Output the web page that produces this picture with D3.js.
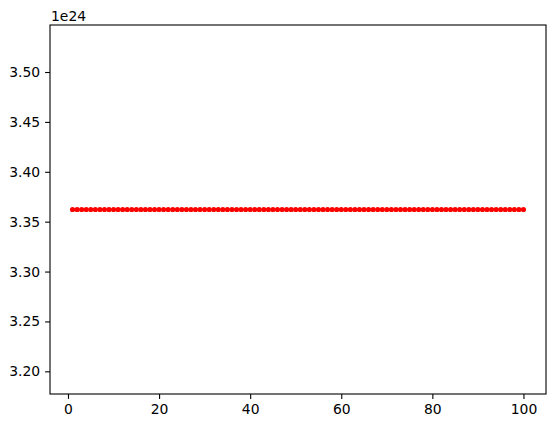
<!DOCTYPE html>
<html lang="en">
<head>
    <meta charset="UTF-8">
    <title>Constant series</title>
    <script src="https://d3js.org/d3.v7.min.js"></script>
    <style>
        body { margin: 0; background: white; }
        svg { display: block; }
        text { font-family: "DejaVu Sans", sans-serif; font-size: 13.9px; fill: black; }
        .axis path, .axis line { stroke: black; stroke-width: 1.1px; }
    </style>
</head>
<body>
    <script>
        // data: x = 1..100, all at the same value (in units of 1e24)
        const xValues = d3.range(1, 101);
        const yValue = 3.3622;
        const yValues = xValues.map(() => yValue);
        const xTicks = [0, 20, 40, 60, 80, 100];
        const yTicks = [3.20, 3.25, 3.30, 3.35, 3.40, 3.45, 3.50];
        const offsetLabel = "1e24";

        const width = 556, height = 428;
        const margin = {top: 25, right: 10, bottom: 34, left: 50};

        const svg = d3.select("body").append("svg")
            .attr("width", width)
            .attr("height", height);

        // matplotlib style limits: 5% margins on x, constant y expanded by 5% of value then 5% margin
        const x = d3.scaleLinear()
            .domain([1 - 0.05 * 99, 100 + 0.05 * 99])
            .range([margin.left, width - margin.right]);
        const y = d3.scaleLinear()
            .domain([yValue * 0.945, yValue * 1.055])
            .range([height - margin.bottom, margin.top]);

        const g = svg.append("g");

        g.selectAll("circle")
            .data(xValues)
            .enter()
            .append("circle")
            .attr("cx", d => x(d))
            .attr("cy", (d, i) => y(yValues[i]))
            .attr("r", 2.6)
            .attr("fill", "red");

        // frame
        svg.append("rect")
            .attr("x", margin.left)
            .attr("y", margin.top)
            .attr("width", width - margin.left - margin.right)
            .attr("height", height - margin.top - margin.bottom)
            .attr("fill", "none")
            .attr("stroke", "black")
            .attr("stroke-width", 1.1);

        svg.append("g")
            .attr("class", "axis")
            .attr("transform", `translate(0,${height - margin.bottom})`)
            .call(d3.axisBottom(x).tickValues(xTicks).tickSize(4.9).tickPadding(4.9).tickFormat(d3.format("d")))
            .call(a => a.select(".domain").remove())
            .selectAll("text").style("font-size", "13.9px").attr("fill", "black");

        svg.append("g")
            .attr("class", "axis")
            .attr("transform", `translate(${margin.left},0)`)
            .call(d3.axisLeft(y).tickValues(yTicks).tickSize(4.9).tickPadding(4.9).tickFormat(d3.format(".2f")))
            .call(a => a.select(".domain").remove())
            .selectAll("text").style("font-size", "13.9px").attr("fill", "black");

        svg.append("text")
            .attr("x", margin.left + 1)
            .attr("y", margin.top - 4)
            .text(offsetLabel);
    </script>
</body>
</html>
